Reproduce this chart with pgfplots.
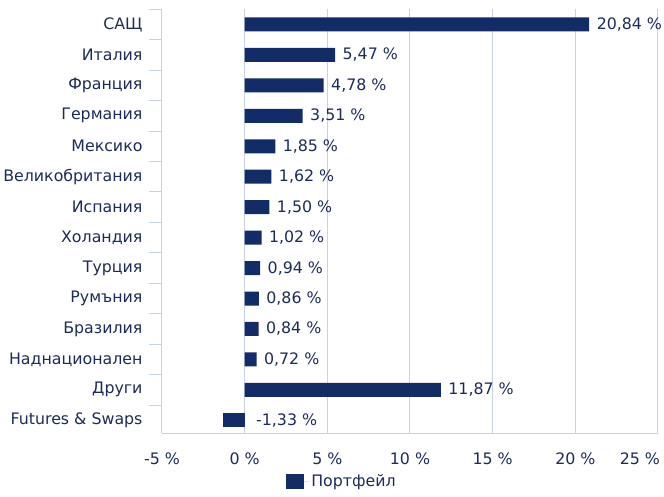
\documentclass[border=0pt]{standalone}
\usepackage{pgfplots}
\pgfplotsset{compat=1.18}
\usepackage{fontspec}
\setmainfont{DejaVu Sans}
\definecolor{barc}{HTML}{112C66}
\definecolor{txt}{HTML}{1C2B58}
\definecolor{grd}{HTML}{C6D2E6}
\begin{document}
\begin{tikzpicture}[font=\fontsize{15.8}{19}\selectfont, text=txt]
\begin{axis}[
 at={(0,0)}, anchor=south west, scale only axis,
 width=496pt, height=424.8pt,
 xbar, bar width=14pt,
 xmin=-5, xmax=25, ymin=-0.525, ymax=13.427, y dir=reverse,
 xtick={-5,0,...,25},
 xticklabels={-5 \%, 0 \%, 5 \%, 10 \%, 15 \%, 20 \%, \hspace*{4pt}\makebox[0pt][r]{25 \%}},
 ytick={0,...,13},
 yticklabels={САЩ, Италия, Франция, Германия, Мексико, Великобритания, Испания, Холандия, Турция, Румъния, Бразилия, Наднационален, Други, Futures \& Swaps},
 minor ytick={-0.5,0.5,...,12.5},
 major tick length=0pt, minor tick length=13pt, tick align=outside,
 xmajorgrids, grid style={grd, line width=1pt},
 axis x line*=bottom, axis y line*=left,
 axis line style={grd, line width=1pt},
 minor tick style={grd, line width=1pt},
 xticklabel style={yshift=-16pt, text=txt},
 yticklabel style={xshift=-16pt, text=txt},
 point meta=explicit symbolic,
 nodes near coords,
 every node near coord/.append style={anchor=west, xshift=4pt, text=txt},
 legend style={at={(0.363,-0.113)}, anchor=center, draw=none, fill=none, text=txt},
]
\addplot[fill=barc, draw=none, bar shift=0pt,
 legend image code/.code={\fill[barc] (0pt,-7.5pt) rectangle (18pt,7.5pt); \path (0pt,0pt) -- (23pt,0pt);}]
 coordinates {
 (20.84,0) [20,84 \%]
 (5.47,1) [5,47 \%]
 (4.78,2) [4,78 \%]
 (3.51,3) [3,51 \%]
 (1.85,4) [1,85 \%]
 (1.62,5) [1,62 \%]
 (1.50,6) [1,50 \%]
 (1.02,7) [1,02 \%]
 (0.94,8) [0,94 \%]
 (0.86,9) [0,86 \%]
 (0.84,10) [0,84 \%]
 (0.72,11) [0,72 \%]
 (11.87,12) [11,87 \%]
 };
\addlegendentry{Портфейл}
\addplot[fill=barc, draw=none, bar shift=0pt, forget plot,
 every node near coord/.append style={anchor=west, xshift=26pt}]
 coordinates {(-1.33,13) [-1,33 \%]};
\end{axis}
\pgfresetboundingbox
\path (-162pt,-62.7pt) rectangle (502pt,433.3pt);
\end{tikzpicture}
\end{document}
